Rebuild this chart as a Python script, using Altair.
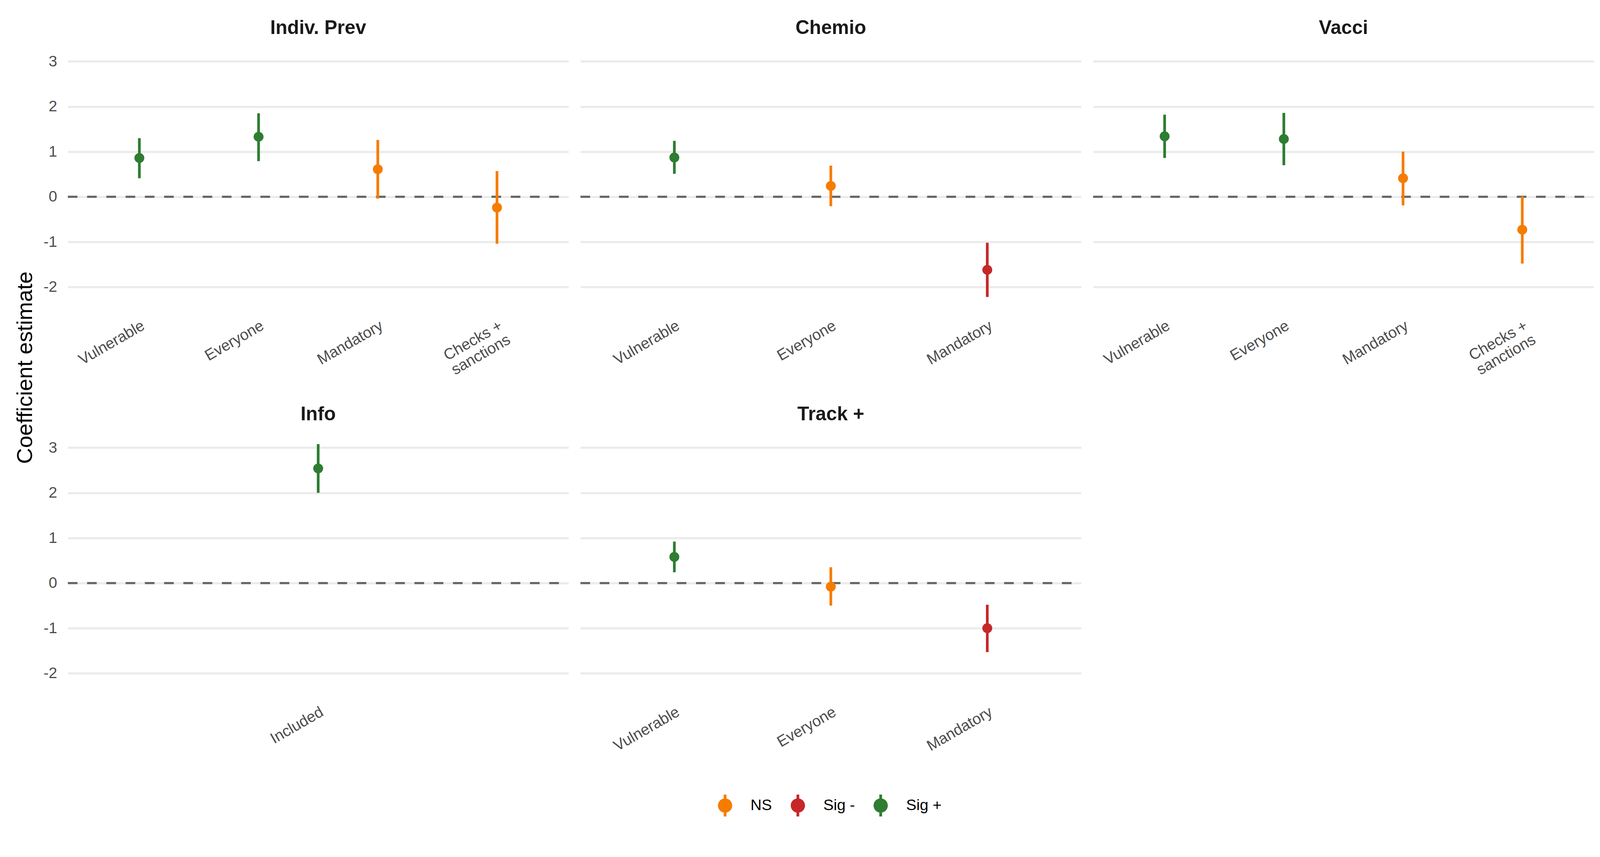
import altair as alt
import pandas as pd

# ---------------- data ----------------
panels = ["Indiv. Prev", "Chemio", "Vacci", "Info", "Track +"]
panel_of = (["Indiv. Prev"] * 4 + ["Chemio"] * 3 + ["Vacci"] * 4
            + ["Info"] + ["Track +"] * 3)
levels = ["Vulnerable", "Everyone", "Mandatory", "Checks +\nsanctions",
          "Vulnerable", "Everyone", "Mandatory",
          "Vulnerable", "Everyone", "Mandatory", "Checks +\nsanctions",
          "Included",
          "Vulnerable", "Everyone", "Mandatory"]
estimate = [0.86, 1.33, 0.61, -0.24,
            0.87, 0.24, -1.62,
            1.34, 1.28, 0.41, -0.73,
            2.54,
            0.58, -0.08, -1.00]
lower = [0.41, 0.79, -0.04, -1.04,
         0.51, -0.21, -2.22,
         0.86, 0.70, -0.19, -1.48,
         2.00,
         0.24, -0.50, -1.53]
upper = [1.30, 1.85, 1.26, 0.57,
         1.24, 0.69, -1.02,
         1.82, 1.86, 1.00, 0.01,
         3.08,
         0.92, 0.35, -0.48]
signif = ["Sig +", "Sig +", "NS", "NS",
          "Sig +", "NS", "Sig -",
          "Sig +", "Sig +", "NS", "NS",
          "Sig +",
          "Sig +", "NS", "Sig -"]
sig_domain = ["NS", "Sig -", "Sig +"]
sig_colors = ["#F57C00", "#C62828", "#2E7D32"]
y_ticks = [-2, -1, 0, 1, 2, 3]
zero_line = [0]

df = pd.DataFrame({"panel": panel_of, "level": levels, "estimate": estimate,
                   "lower": lower, "upper": upper, "signif": signif})
zero_df = pd.DataFrame({"zero": zero_line})

# ---------------- styling ----------------
FONT = "Liberation Sans"
W, H = 1300, 683
lo, hi = min(lower), max(upper)
ex = 0.05 * (hi - lo)
yscale = alt.Scale(domain=[lo - ex, hi + ex], nice=False, zero=False)
xscale = alt.Scale(type="point", padding=0.6)
cscale = alt.Scale(domain=sig_domain, range=sig_colors)

symbol_path = ("M-0.65,0A0.65,0.65,0,1,1,0.65,0A0.65,0.65,0,1,1,-0.65,0Z"
               "M-0.125,-1H0.125V1H-0.125Z")

legend = alt.Legend(
    title=None, orient="none", direction="horizontal",
    legendX=1678, legendY=1944, padding=0,
    symbolType=symbol_path, symbolSize=3249, symbolStrokeWidth=0,
    symbolOpacity=1, labelFont=FONT, labelFontSize=40, labelColor="#000000",
    labelOffset=37.5, columnPadding=38,
)

xaxis = alt.Axis(
    title=None, domain=False, ticks=False, tickSize=0, grid=False,
    labelAngle=330, labelAlign="right", labelBaseline="top",
    labelFont=FONT, labelFontSize=40, labelColor="#4D4D4D",
    labelPadding=23, labelLineHeight=42, labelLimit=0, labelOverlap=False,
    labelExpr="split(datum.label, '\\n')",
)


def make_yaxis(show_labels, with_title):
    kw = dict(values=y_ticks, grid=True, gridColor="#EBEBEB", gridWidth=5.5,
              domain=False, ticks=False, tickSize=0)
    if show_labels:
        kw.update(labels=True, labelFont=FONT, labelFontSize=40,
                  labelColor="#4D4D4D", labelPadding=28,
                  labelExpr="toString(datum.value)")
    else:
        kw.update(labels=False)
    if with_title:
        kw.update(title="Coefficient estimate", titleFont=FONT,
                  titleFontSize=57, titleFontWeight="normal",
                  titleColor="#000000", titleAngle=270, titleX=-93,
                  titleY=835, titleBaseline="alphabetic", titleAlign="center")
    else:
        kw.update(title=None)
    return alt.Axis(**kw)


def panel(name, show_labels, with_title):
    d = df[df["panel"] == name]
    yaxis = make_yaxis(show_labels, with_title)
    x_enc = alt.X("level:N", sort=None, scale=xscale, axis=xaxis)
    c_enc = alt.Color("signif:N", scale=cscale, legend=legend)

    zero = alt.Chart(zero_df).mark_rule(
        color="#666666", strokeWidth=5.5, strokeDash=[25, 25],
        strokeDashOffset=25,
    ).encode(y=alt.Y("zero:Q", scale=yscale, axis=yaxis))

    pts = alt.Chart(d).mark_circle(size=660, opacity=1).encode(
        x=x_enc,
        y=alt.Y("estimate:Q", scale=yscale, axis=yaxis),
        color=c_enc,
    )
    bars = alt.Chart(d).mark_rule(strokeWidth=7).encode(
        x=x_enc,
        y=alt.Y("lower:Q", scale=yscale, axis=yaxis),
        y2="upper:Q",
        color=c_enc,
    )
    return alt.layer(zero, pts, bars).properties(
        width=W, height=H,
        title=alt.TitleParams(text=name, font=FONT, fontSize=50,
                              fontWeight="bold", color="#1A1A1A",
                              anchor="middle", frame="group", offset=-19,
                              baseline="alphabetic"),
    )


charts = [
    panel("Indiv. Prev", True, True),
    panel("Chemio", False, False),
    panel("Vacci", False, False),
    panel("Info", True, False),
    panel("Track +", False, False),
]

chart = alt.concat(
    *charts, columns=3, spacing={"row": 320, "column": 31}, bounds="flush"
).properties(
    padding={"left": 29, "top": 25, "right": 5, "bottom": 5},
    background="white",
).configure_view(stroke=None)

chart.save("out.html", embed_options={"renderer": "svg", "actions": False})
